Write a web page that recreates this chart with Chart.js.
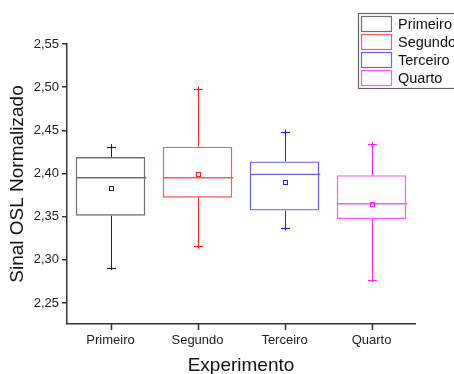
<!DOCTYPE html>
<html>
<head>
<meta charset="utf-8">
<script src="https://cdn.jsdelivr.net/npm/chart.js@4.4.1/dist/chart.umd.min.js"></script>
<style>
  html, body { margin: 0; padding: 0; background: #fff; }
  #chart { display: block; }
</style>
</head>
<body>
<canvas id="chart" width="454" height="374"></canvas>
<script>
// experiment names (x categories and legend entries)
const categories = ['Primeiro', 'Segundo', 'Terceiro', 'Quarto'];

const whiskerLow  = [2.291, 2.316, 2.337, 2.277];
const q1          = [2.351, 2.372, 2.357, 2.347];
const median      = [2.395, 2.395, 2.399, 2.365];
const q3          = [2.419, 2.431, 2.414, 2.398];
const whiskerHigh = [2.431, 2.498, 2.448, 2.434];
const mean        = [2.383, 2.399, 2.390, 2.365];

const colors = ['#222222', '#ff2020', '#2020ff', '#ff20ff'];
const boxColors = ['#707070', '#ff5a5a', '#6060ff', '#ff55ff'];

const yTicks = [2.25, 2.30, 2.35, 2.40, 2.45, 2.50, 2.55];
const yTickLabels = ['2,25', '2,30', '2,35', '2,40', '2,45', '2,50', '2,55'];

const FONT = "'Liberation Sans', Arial, sans-serif";

const datasets = categories.map(function (name, i) {
    return {
        label: name,
        data: categories.map(function (_, j) { return j === i ? [q1[i], q3[i]] : null; }),
        backgroundColor: 'rgba(0,0,0,0)',
        borderColor: boxColors[i],
        borderWidth: 1.4,
        borderSkipped: false,
        categoryPercentage: 0.8,
        barPercentage: 1.0
    };
});

// whiskers, median line and mean marker drawn through the scales
const boxExtras = {
    id: 'boxExtras',
    afterDatasetsDraw: function (chart) {
        const ctx = chart.ctx;
        const y = chart.scales.y;
        ctx.save();
        chart.data.datasets.forEach(function (ds, i) {
            const bar = chart.getDatasetMeta(i).data[i];
            if (!bar) return;
            const x = Math.round(bar.x) + 0.5;
            const half = bar.width / 2;
            ctx.strokeStyle = boxColors[i];
            ctx.lineWidth = 1.4;
            ctx.beginPath();
            ctx.moveTo(x - half, y.getPixelForValue(median[i]));
            ctx.lineTo(x + half, y.getPixelForValue(median[i]));
            ctx.stroke();

            ctx.strokeStyle = colors[i];
            ctx.lineWidth = 1;
            ctx.beginPath();
            ctx.moveTo(x, y.getPixelForValue(q3[i]));
            ctx.lineTo(x, y.getPixelForValue(whiskerHigh[i]) - 2.5);
            ctx.moveTo(x, y.getPixelForValue(q1[i]));
            ctx.lineTo(x, y.getPixelForValue(whiskerLow[i]) + 2.5);
            ctx.stroke();
            // whisker end caps
            ctx.lineWidth = 1.2;
            [whiskerHigh[i], whiskerLow[i]].forEach(function (v) {
                const py = Math.round(y.getPixelForValue(v)) + 0.5;
                ctx.beginPath();
                ctx.moveTo(x - 4.5, py);
                ctx.lineTo(x + 4.5, py);
                ctx.stroke();
            });
            // mean
            ctx.lineWidth = 1;
            const my = Math.round(y.getPixelForValue(mean[i])) + 0.5;
            ctx.strokeRect(x - 2, my - 2, 4, 4);
        });
        ctx.restore();
    },
    afterDraw: function (chart) {
        // x tick marks at category centres
        const ctx = chart.ctx;
        const xs = chart.scales.x;
        const bottom = chart.chartArea.bottom;
        ctx.save();
        ctx.strokeStyle = '#333';
        ctx.lineWidth = 1.5;
        ctx.beginPath();
        categories.forEach(function (_, k) {
            const tx = Math.round(xs.getPixelForValue(k)) + 0.5;
            ctx.moveTo(tx, bottom);
            ctx.lineTo(tx, bottom + 6);
        });
        ctx.stroke();
        ctx.restore();
    }
};

// boxed legend at the top right, partly clipped by the canvas edge
const boxLegend = {
    id: 'boxLegend',
    afterDraw: function (chart) {
        const ctx = chart.ctx;
        ctx.save();
        ctx.strokeStyle = '#666';
        ctx.lineWidth = 1.2;
        ctx.strokeRect(358.5, 13.5, 110, 75);
        ctx.font = '14.5px ' + FONT;
        ctx.textBaseline = 'middle';
        chart.data.datasets.forEach(function (ds, i) {
            const top = 16.5 + i * 18;
            ctx.strokeStyle = boxColors[i];
            ctx.lineWidth = 1.2;
            ctx.strokeRect(361.5, top, 30, 15);
            ctx.fillStyle = '#111';
            ctx.fillText(ds.label, 398, top + 8);
        });
        ctx.restore();
    }
};

new Chart(document.getElementById('chart'), {
    type: 'bar',
    data: { labels: categories, datasets: datasets },
    options: {
        responsive: false,
        animation: false,
        skipNull: true,
        layout: { padding: { top: 44, right: 39, bottom: 0, left: 0 } },
        plugins: { legend: { display: false }, tooltip: { enabled: false } },
        scales: {
            x: {
                offset: true,
                grid: { display: false },
                border: { display: true, color: '#333', width: 1.5 },
                ticks: { color: '#222', padding: 1, font: { family: FONT, size: 13 } },
                title: { display: true, text: 'Experimento', color: '#111', padding: { top: 0, bottom: -3 }, font: { family: FONT, size: 19 } },
                afterFit: function (scale) { scale.height = 50; }
            },
            y: {
                min: 2.2256,
                max: 2.55,
                afterBuildTicks: function (scale) { scale.ticks = yTicks.map(function (v) { return { value: v }; }); },
                grid: { display: true, drawOnChartArea: false, drawTicks: true, tickLength: 5, color: '#333', lineWidth: 1.5 },
                border: { display: true, color: '#333', width: 1.5 },
                ticks: {
                    color: '#222', padding: 3, font: { family: FONT, size: 13 },
                    callback: function (value) {
                        const k = yTicks.findIndex(function (t) { return Math.abs(t - value) < 1e-6; });
                        return k >= 0 ? yTickLabels[k] : '';
                    }
                },
                title: { display: true, text: 'Sinal OSL Normalizado', color: '#111', padding: { top: 6, bottom: 0 }, font: { family: FONT, size: 19 } },
                afterFit: function (scale) { scale.width = 67; }
            }
        }
    },
    plugins: [boxExtras, boxLegend]
});
</script>
</body>
</html>
